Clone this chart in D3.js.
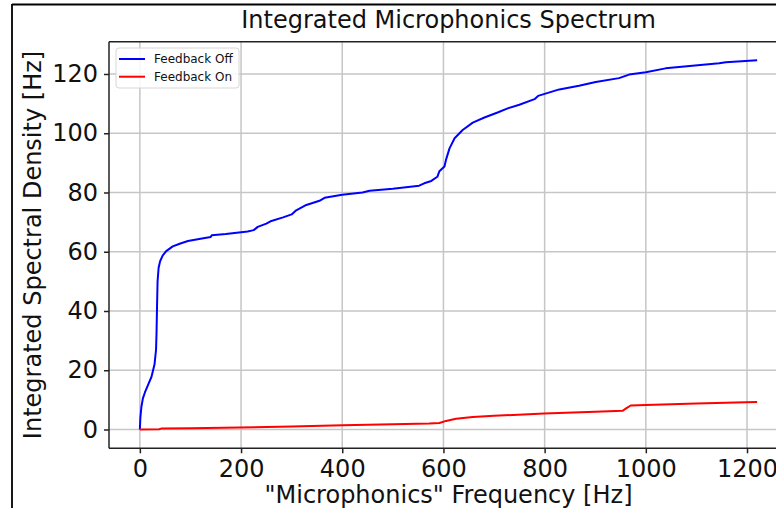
<!DOCTYPE html>
<html>
<head>
<meta charset="utf-8">
<script src="https://cdn.jsdelivr.net/npm/d3@7"></script>
<style>
  html, body { margin: 0; padding: 0; background: #fff; }
  svg { display: block; font-family: "DejaVu Sans", sans-serif; }
</style>
</head>
<body>
<svg id="chart" width="776" height="508"></svg>
<script>
// ---- data ----
const freqOff = [0,1,3,6,10,16,23,29,32,33,34,35,37,40,45,52,65,80,95,120,140,142,170,213,225,233,250,260,283,300,309,329,355,365,400,440,454,500,552,562,576,588,592,602,605,612,622,638,658,681,707,727,750,780,787,829,868,901,947,967,1000,1039,1092,1145,1158,1220];
const densOff = [0,4,7.6,10.5,12.5,15,17.8,22,27,33,42,50,54.5,56.8,58.7,60.2,61.8,62.8,63.6,64.4,65,65.6,66,66.8,67.3,68.4,69.5,70.4,71.6,72.6,74,75.8,77.2,78.2,79.2,80,80.6,81.3,82.3,83.1,83.9,85.3,87.2,88.8,91,94.9,98.3,101.1,103.6,105.3,107,108.4,109.6,111.5,112.6,114.8,116,117.3,118.6,119.8,120.6,121.9,122.8,123.6,124,124.6];
const freqOn = [0,38,42,100,197,300,401,450,500,572,592,605,625,658,700,799,900,954,961,970,1000,1100,1197,1220];
const densOn = [0,0.1,0.3,0.45,0.7,1.0,1.4,1.6,1.75,2.0,2.2,2.9,3.6,4.2,4.6,5.4,6.0,6.3,7.1,8.1,8.3,8.8,9.2,9.3];
const xTicks = [0,200,400,600,800,1000,1200];
const yTicks = [0,20,40,60,80,100,120];
const seriesNames = ["Feedback Off", "Feedback On"];
const seriesColors = ["#0000ff", "#ff0000"];
const titleText = "Integrated Microphonics Spectrum";
const xLabelText = "\"Microphonics\" Frequency [Hz]";
const yLabelText = "Integrated Spectral Density [Hz]";

// ---- layout ----
const svg = d3.select("#chart");
const L = 109, R = 788, T = 41.7, B = 448.3;
const x = d3.scaleLinear().domain([-61, 1281]).range([L, R]);
const y = d3.scaleLinear().domain([-6.35, 130.9]).range([B, T]);

svg.append("rect").attr("width", 776).attr("height", 508).attr("fill", "#fff");

// grid
const grid = svg.append("g");
grid.selectAll(".gx").data(xTicks).enter().append("line")
  .attr("x1", d => x(d)).attr("x2", d => x(d)).attr("y1", T).attr("y2", B)
  .attr("stroke", "#c6c6c6").attr("stroke-width", 1.5);
grid.selectAll(".gy").data(yTicks).enter().append("line")
  .attr("y1", d => y(d)).attr("y2", d => y(d)).attr("x1", L).attr("x2", R)
  .attr("stroke", "#c6c6c6").attr("stroke-width", 1.5);

// clip
svg.append("clipPath").attr("id", "clip").append("rect")
  .attr("x", L).attr("y", T).attr("width", R - L).attr("height", B - T);

const line = d3.line().x(d => x(d[0])).y(d => y(d[1]));
const offData = d3.zip(freqOff, densOff);
const onData = d3.zip(freqOn, densOn);
const plot = svg.append("g").attr("clip-path", "url(#clip)");
plot.append("path").datum(offData).attr("d", line).attr("fill", "none")
  .attr("stroke", seriesColors[0]).attr("stroke-width", 2).attr("stroke-linejoin", "round");
plot.append("path").datum(onData).attr("d", line).attr("fill", "none")
  .attr("stroke", seriesColors[1]).attr("stroke-width", 2).attr("stroke-linejoin", "round");

// axes
const xAxis = svg.append("g").attr("transform", `translate(0,${B})`)
  .call(d3.axisBottom(x).tickValues(xTicks).tickSize(5).tickPadding(7).tickFormat(d3.format("d")));
const yAxis = svg.append("g").attr("transform", `translate(${L},0)`)
  .call(d3.axisLeft(y).tickValues(yTicks).tickSize(5).tickPadding(6).tickFormat(d3.format("d")));
[xAxis, yAxis].forEach(a => {
  a.select(".domain").remove();
  a.selectAll(".tick line").attr("stroke", "#222").attr("stroke-width", 1.5);
  a.selectAll(".tick text").attr("font-size", 24).attr("fill", "#111")
    .attr("font-family", "DejaVu Sans, sans-serif");
});
// spines
svg.append("line").attr("x1", L).attr("x2", L).attr("y1", T).attr("y2", B).attr("stroke", "#222").attr("stroke-width", 1.5);
svg.append("line").attr("x1", L).attr("x2", R).attr("y1", B).attr("y2", B).attr("stroke", "#222").attr("stroke-width", 1.5);
svg.append("line").attr("x1", L).attr("x2", R).attr("y1", T).attr("y2", T).attr("stroke", "#222").attr("stroke-width", 1.5);

// titles
svg.append("text").attr("x", (L + R) / 2).attr("y", 28).attr("text-anchor", "middle")
  .attr("font-size", 24).attr("fill", "#111").text(titleText);
svg.append("text").attr("x", (L + R) / 2).attr("y", 503).attr("text-anchor", "middle")
  .attr("font-size", 24).attr("fill", "#111").text(xLabelText);
svg.append("text").attr("transform", `translate(41,${(T + B) / 2}) rotate(-90)`).attr("text-anchor", "middle")
  .attr("font-size", 24).attr("fill", "#111").text(yLabelText);

// legend
const lg = svg.append("g");
lg.append("rect").attr("x", 116).attr("y", 48).attr("width", 123).attr("height", 40).attr("rx", 3)
  .attr("fill", "#fff").attr("fill-opacity", 0.85).attr("stroke", "#d6d6d6").attr("stroke-width", 1);
seriesNames.forEach((n, i) => {
  const yy = 59 + i * 17.7;
  lg.append("line").attr("x1", 119).attr("x2", 145).attr("y1", yy).attr("y2", yy)
    .attr("stroke", seriesColors[i]).attr("stroke-width", 2);
  lg.append("text").attr("x", 154).attr("y", yy + 4.3).attr("font-size", 12).attr("fill", "#111").text(n);
});

// outer frame
svg.append("line").attr("x1", 12).attr("x2", 12).attr("y1", 4).attr("y2", 508).attr("stroke", "#000").attr("stroke-width", 1.8);
svg.append("line").attr("x1", 12).attr("x2", 776).attr("y1", 4.5).attr("y2", 4.5).attr("stroke", "#000").attr("stroke-width", 1.8);
</script>
</body>
</html>
